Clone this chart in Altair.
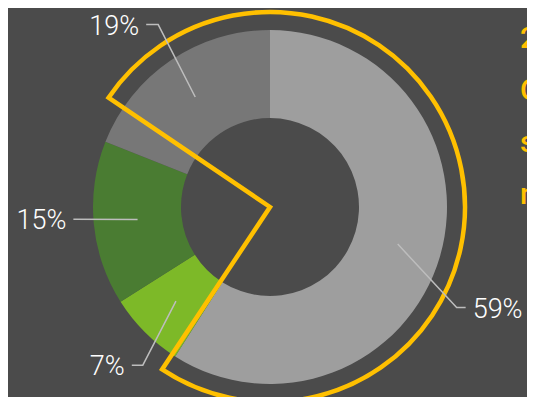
import math
import pandas as pd
import altair as alt

# ---- data ----
categories = ["Segment A", "Segment B", "Segment C", "Segment D"]
values = [59, 7, 15, 19]
labels = ["59%", "7%", "15%", "19%"]
colors = ["#9e9e9e", "#7db928", "#4a7c32", "#777777"]
side_text = ["2 in 3", "Of our", "staff are", "men"]

# ---- layout constants (chart coordinates; page has an 8px margin) ----
CX, CY = 262, 199
R_IN, R_OUT = 89, 177
R_MID = (R_IN + R_OUT) / 2
# leader elbow: (angle deg, radius, horizontal tail)
ELBOW = [(118.3, 212, 9), (218.8, 203, -11), (266.4, 197, 0), (328.5, 214, -12)]

total = sum(values)
pie = pd.DataFrame({"cat": categories, "value": values, "idx": range(len(values))})

line_rows, text_rows = [], []
cum = 0
for i, v in enumerate(values):
    mid = (cum + v / 2) / total * 360
    cum += v
    a0 = math.radians(mid)
    sx, sy = CX + R_MID * math.sin(a0), CY - R_MID * math.cos(a0)
    ea, er, tail = ELBOW[i]
    a1 = math.radians(ea)
    ex, ey = CX + er * math.sin(a1), CY - er * math.cos(a1)
    tx = ex + tail
    d = 1 if ex > CX else -1
    line_rows += [
        {"k": i, "o": 0, "x": sx, "y": sy},
        {"k": i, "o": 1, "x": ex, "y": ey},
        {"k": i, "o": 2, "x": tx, "y": ey},
    ]
    text_rows.append({"label": labels[i], "x": tx + d * 7, "y": ey + 2,
                      "side": "left" if d > 0 else "right"})

lines_df = pd.DataFrame(line_rows)
text_df = pd.DataFrame(text_rows)

donut = alt.Chart(pie).mark_arc(innerRadius=R_IN, outerRadius=R_OUT).encode(
    theta=alt.Theta("value:Q", stack=True),
    color=alt.Color("cat:N", scale=alt.Scale(domain=categories, range=colors), legend=None),
    order=alt.Order("idx:Q"),
    x=alt.value(CX), y=alt.value(CY),
)

wedge = alt.Chart(pd.DataFrame({"a": [0]})).mark_arc(
    innerRadius=0, outerRadius=195,
    theta=math.radians(304.1), theta2=math.radians(213.6 + 360),
    fill="transparent", stroke="#ffc000", strokeWidth=4.5,
).encode(x=alt.value(CX), y=alt.value(CY))

leaders = alt.Chart(lines_df).mark_line(color="#bdbdbd", strokeWidth=1.5).encode(
    x=alt.X("x:Q", scale=None), y=alt.Y("y:Q", scale=None),
    detail="k:N", order="o:Q",
)

left_txt = alt.Chart(text_df[text_df["side"] == "left"]).mark_text(
    align="left", baseline="middle", fontSize=27, font="Roboto", fontWeight=300, color="white"
).encode(x=alt.X("x:Q", scale=None), y=alt.Y("y:Q", scale=None), text="label:N")

right_txt = alt.Chart(text_df[text_df["side"] == "right"]).mark_text(
    align="right", baseline="middle", fontSize=27, font="Roboto", fontWeight=300, color="white"
).encode(x=alt.X("x:Q", scale=None), y=alt.Y("y:Q", scale=None), text="label:N")

side = alt.Chart(pd.DataFrame({"t": [side_text]})).mark_text(
    align="left", baseline="alphabetic", fontSize=30, font="Roboto", fontWeight=500,
    color="#ffc000", lineHeight=52,
).encode(x=alt.value(512), y=alt.value(40), text="t")

chart = alt.layer(donut, wedge, leaders, left_txt, right_txt, side).properties(
    width=519, height=389, padding=0,
    autosize=alt.AutoSizeParams(type="none"),
    background="#4b4b4b",
).configure_view(stroke=None)

chart.save("out.html", embed_options={"renderer": "svg", "actions": False})
